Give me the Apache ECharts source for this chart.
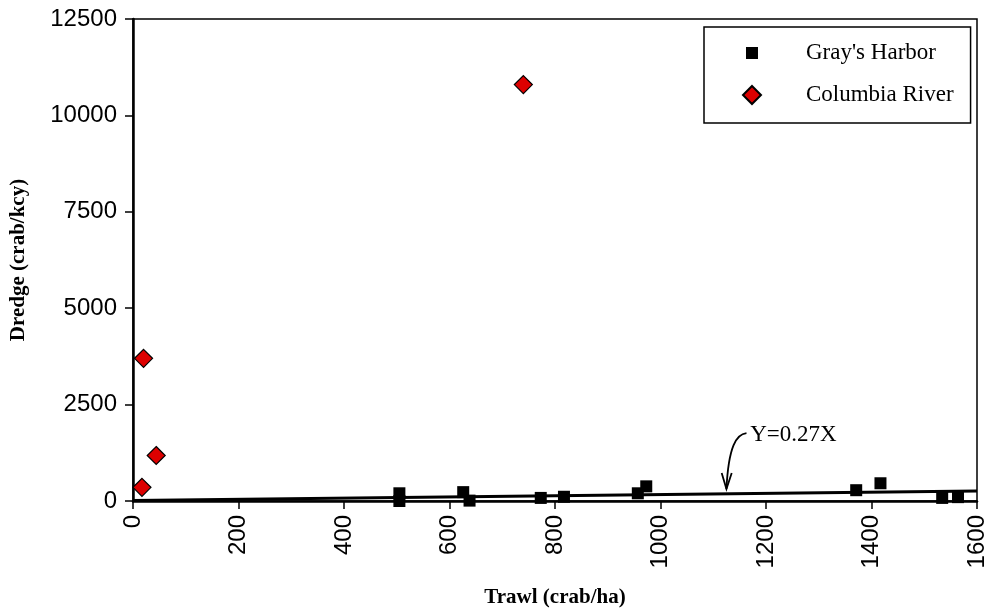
<!DOCTYPE html>
<html>
<head>
<meta charset="utf-8">
<script src="https://cdn.jsdelivr.net/npm/echarts@6/dist/echarts.min.js"></script>
<style>
  html, body { margin: 0; padding: 0; background: #fff; }
  #chart { width: 990px; height: 614px; }
</style>
</head>
<body>
<div id="chart"></div>
<script>
// Gray's Harbor: trawl (crab/ha) vs dredge (crab/kcy)
const grayTrawl = [505, 505, 626, 638, 773, 817, 957, 973, 1371, 1417, 1534, 1564];
const grayDredge = [200, 0, 230, 10, 80, 110, 200, 380, 280, 460, 80, 100];

// Columbia River
const columbiaTrawl = [17, 20, 44, 740];
const columbiaDredge = [355, 3700, 1180, 10800];

// fitted line, end points as drawn
const fitTrawl = [0, 1600];
const fitDredge = [10, 260];

// axis ranges / tick steps
const xRange = [0, 1600, 200];
const yRange = [0, 12500, 2500];

// annotation "Y=0.27X" with its arrow (data coords)
const noteText = 'Y=0.27X';
const noteAt = [1170, 1709];
const arrowCurve = [[1163, 1761], [1144, 1735], [1129, 1424], [1125, 311]];
const arrowHead = [[1116, 725], [1125, 311], [1135, 725]];

const zip = (a, b) => a.map((v, i) => [v, b[i]]);

const chart = echarts.init(document.getElementById('chart'));

const serif = "'Liberation Serif', 'Times New Roman', serif";
const sans = "'Liberation Sans', Arial, sans-serif";

const option = {
  animation: false,
  backgroundColor: '#fff',
  grid: {
    left: 132, right: 13, top: 19, bottom: 113,
    show: true, borderColor: '#000', borderWidth: 1.5
  },
  legend: {
    orient: 'vertical',
    left: 704, top: 27,
    padding: [14, 17, 16, 38],
    itemGap: 18,
    itemWidth: 18, itemHeight: 18,
    borderColor: '#000', borderWidth: 1.5,
    textStyle: { fontFamily: serif, fontSize: 23, color: '#000', lineHeight: 24, padding: [0, 0, 0, 40] },
    data: [
      { name: "Gray's Harbor", icon: 'path://M0,0L0.01,0.01M3,3L15,3L15,15L3,15ZM18,18L18.01,18.01' },
      { name: 'Columbia River', icon: 'diamond' }
    ]
  },
  xAxis: {
    type: 'value',
    min: xRange[0], max: xRange[1], interval: xRange[2],
    name: 'Trawl (crab/ha)',
    nameLocation: 'middle', nameGap: 86,
    nameTextStyle: { fontFamily: serif, fontSize: 21, fontWeight: 'bold', color: '#000' },
    axisLine: { onZero: false, lineStyle: { color: '#000', width: 2.5 } },
    axisTick: { show: true, length: 8, lineStyle: { color: '#000', width: 1.5 } },
    axisLabel: { rotate: 90, margin: 14, fontFamily: sans, fontSize: 24, color: '#000', formatter: v => String(v) },
    splitLine: { show: false }
  },
  yAxis: {
    type: 'value',
    min: yRange[0], max: yRange[1], interval: yRange[2],
    name: 'Dredge (crab/kcy)',
    nameLocation: 'middle', nameGap: 104,
    nameTextStyle: { fontFamily: serif, fontSize: 21, fontWeight: 'bold', color: '#000' },
    axisLine: { show: true, onZero: false, lineStyle: { color: '#000', width: 2.5 } },
    axisTick: { show: true, length: 8, lineStyle: { color: '#000', width: 1.5 } },
    axisLabel: { margin: 16, fontFamily: sans, fontSize: 24, color: '#000', formatter: v => String(v) },
    splitLine: { show: false }
  },
  series: [
    {
      name: 'fit',
      type: 'line',
      data: zip(fitTrawl, fitDredge),
      showSymbol: false,
      lineStyle: { color: '#000', width: 3 },
      z: 1,
      silent: true
    },
    {
      name: "Gray's Harbor",
      type: 'scatter',
      data: zip(grayTrawl, grayDredge),
      symbol: 'rect',
      symbolSize: 12,
      itemStyle: { color: '#000', opacity: 1 },
      z: 3
    },
    {
      name: 'Columbia River',
      type: 'scatter',
      data: zip(columbiaTrawl, columbiaDredge),
      symbol: 'diamond',
      symbolSize: 18,
      itemStyle: { color: '#dd0000', borderColor: '#000', borderWidth: 1.2, opacity: 1 },
      z: 4
    }
  ]
};

chart.setOption(option);

// annotation drawn from data coordinates
const px = p => chart.convertToPixel({ gridIndex: 0 }, p);
const c = arrowCurve.map(px);
const t = px(noteAt);
chart.setOption({
  graphic: [
    {
      type: 'bezierCurve',
      shape: { x1: c[0][0], y1: c[0][1], cpx1: c[1][0], cpy1: c[1][1], cpx2: c[2][0], cpy2: c[2][1], x2: c[3][0], y2: c[3][1] },
      style: { stroke: '#000', lineWidth: 1.8, fill: null },
      z: 10
    },
    {
      type: 'polyline',
      shape: { points: arrowHead.map(px) },
      style: { stroke: '#000', lineWidth: 1.8, fill: null },
      z: 10
    },
    {
      type: 'text',
      x: t[0], y: t[1],
      style: { text: noteText, font: '23px ' + serif, fill: '#000', verticalAlign: 'middle', align: 'left' },
      z: 10
    }
  ]
});
</script>
</body>
</html>
